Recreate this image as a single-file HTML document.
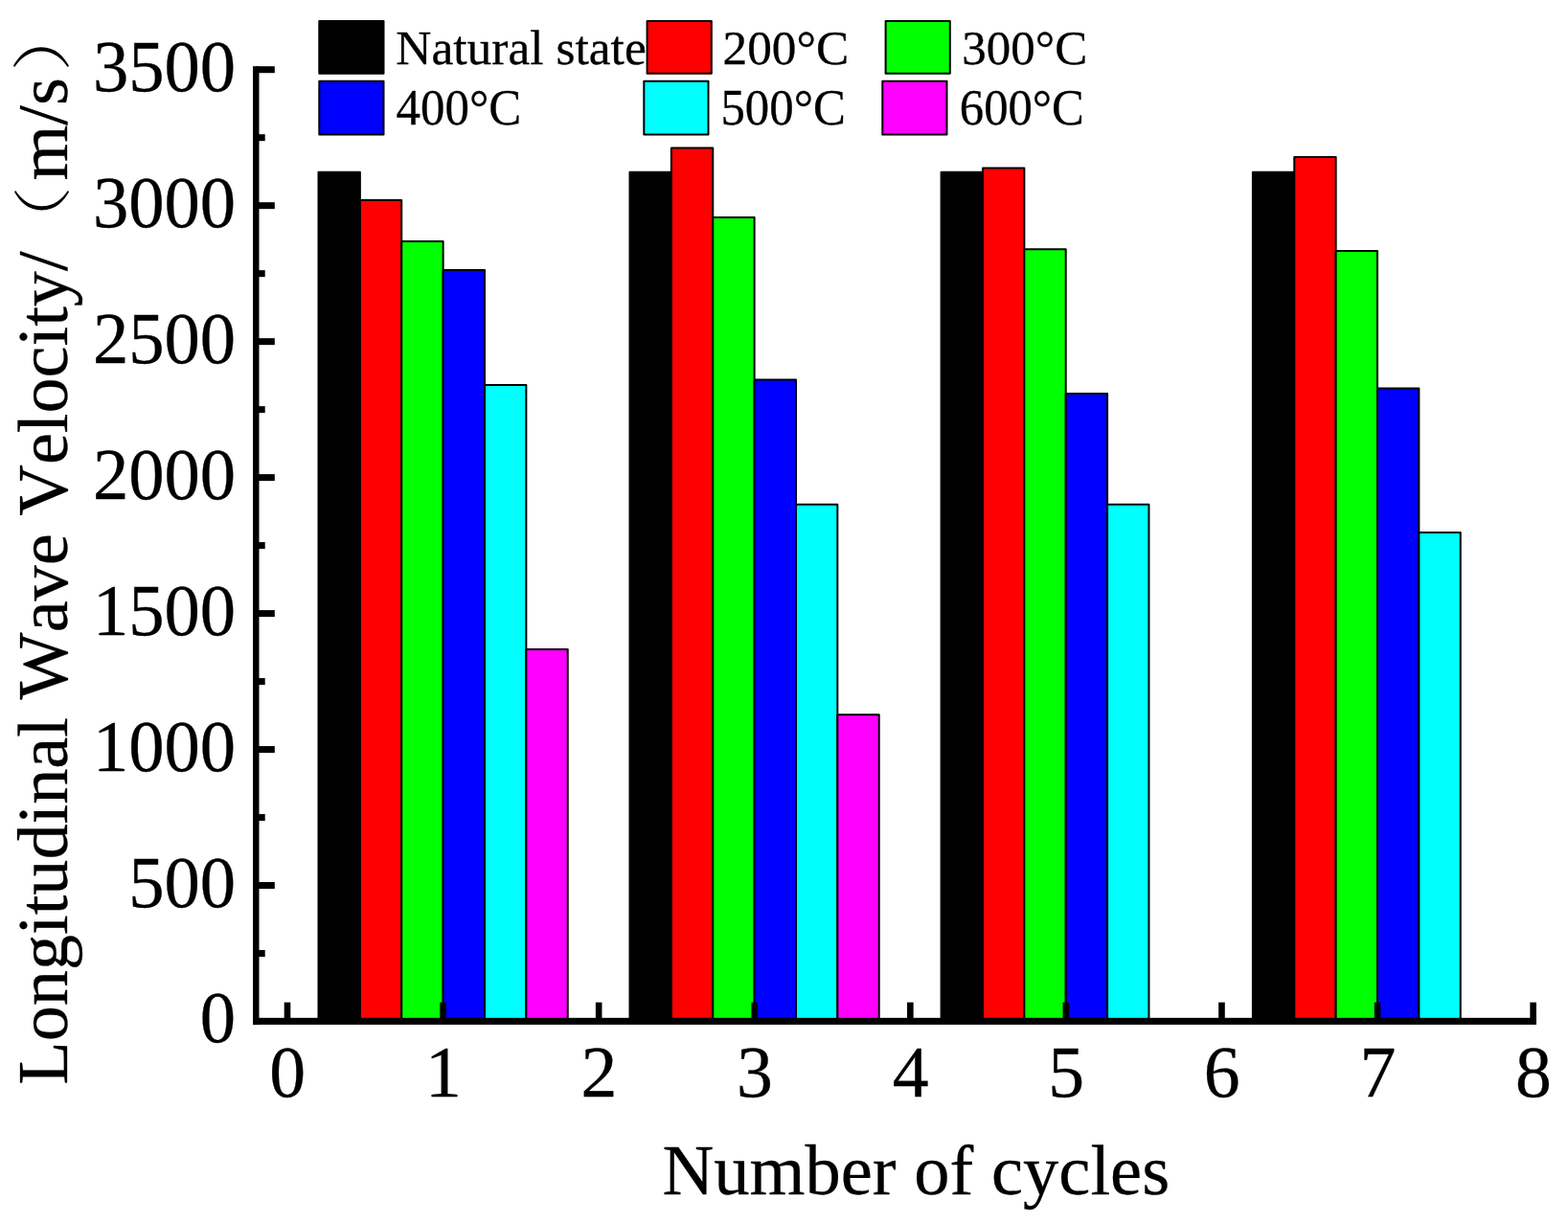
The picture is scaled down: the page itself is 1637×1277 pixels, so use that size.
<!DOCTYPE html>
<html lang="en">
<head>
<meta charset="utf-8">
<title>Longitudinal Wave Velocity vs Number of cycles</title>
<style>
html,body{margin:0;padding:0;background:#fff}
body{width:1637px;height:1277px;overflow:hidden}
figure{margin:0;width:1637px;height:1277px}
svg{display:block}
text{font-family:"Liberation Serif","Noto Serif CJK SC",serif;fill:#000;stroke:#000;stroke-width:.3px;stroke-linejoin:round;font-kerning:none}
.cjk{font-family:"Noto Serif CJK SC","Noto Sans CJK SC",serif;font-weight:300;stroke:none}
.bars rect,.legend rect{stroke:#000;stroke-width:2px;stroke-linejoin:round}
.axes rect{fill:#000}
.tick{font-size:75px}
.title{font-size:75px}
.legend text{font-size:51.5px}
</style>
</head>
<body>
<figure>
<svg width="1637" height="1277" viewBox="0 0 1637 1277" role="img" aria-label="Bar chart of longitudinal wave velocity against number of cycles">
<rect x="0" y="0" width="1637" height="1277" fill="#ffffff"/>
<g class="bars">
<g class="group cycle-1">
<rect x="332.50" y="179.80" width="43.37" height="886.70" fill="#000000"/>
<rect x="375.87" y="209.00" width="43.37" height="857.50" fill="#ff0000"/>
<rect x="419.24" y="251.90" width="43.37" height="814.60" fill="#00ff00"/>
<rect x="462.61" y="282.00" width="43.37" height="784.50" fill="#0000ff"/>
<rect x="505.98" y="402.00" width="43.37" height="664.50" fill="#00ffff"/>
<rect x="549.35" y="677.90" width="43.37" height="388.60" fill="#ff00ff"/>
</g>
<g class="group cycle-3">
<rect x="657.50" y="179.80" width="43.37" height="886.70" fill="#000000"/>
<rect x="700.87" y="154.40" width="43.37" height="912.10" fill="#ff0000"/>
<rect x="744.24" y="226.90" width="43.37" height="839.60" fill="#00ff00"/>
<rect x="787.61" y="396.50" width="43.37" height="670.00" fill="#0000ff"/>
<rect x="830.98" y="526.80" width="43.37" height="539.70" fill="#00ffff"/>
<rect x="874.35" y="746.30" width="43.37" height="320.20" fill="#ff00ff"/>
</g>
<g class="group cycle-5">
<rect x="982.60" y="179.80" width="43.37" height="886.70" fill="#000000"/>
<rect x="1025.97" y="175.60" width="43.37" height="890.90" fill="#ff0000"/>
<rect x="1069.34" y="260.20" width="43.37" height="806.30" fill="#00ff00"/>
<rect x="1112.71" y="411.00" width="43.37" height="655.50" fill="#0000ff"/>
<rect x="1156.08" y="526.80" width="43.37" height="539.70" fill="#00ffff"/>
</g>
<g class="group cycle-7">
<rect x="1307.90" y="179.80" width="43.37" height="886.70" fill="#000000"/>
<rect x="1351.27" y="164.10" width="43.37" height="902.40" fill="#ff0000"/>
<rect x="1394.64" y="262.00" width="43.37" height="804.50" fill="#00ff00"/>
<rect x="1438.01" y="405.40" width="43.37" height="661.10" fill="#0000ff"/>
<rect x="1481.38" y="556.00" width="43.37" height="510.50" fill="#00ffff"/>
</g>
</g>
<g class="axes">
<rect class="y-axis" x="264" y="69.2" width="6.5" height="1000.7"/>
<rect class="x-axis" x="264" y="1062.8" width="1340" height="7.1"/>
<g class="y-ticks">
<rect x="267" y="69.20" width="19.8" height="7"/>
<rect x="267" y="140.19" width="9.7" height="7"/>
<rect x="267" y="211.17" width="19.8" height="7"/>
<rect x="267" y="282.16" width="9.7" height="7"/>
<rect x="267" y="353.14" width="19.8" height="7"/>
<rect x="267" y="424.12" width="9.7" height="7"/>
<rect x="267" y="495.11" width="19.8" height="7"/>
<rect x="267" y="566.09" width="9.7" height="7"/>
<rect x="267" y="637.08" width="19.8" height="7"/>
<rect x="267" y="708.07" width="9.7" height="7"/>
<rect x="267" y="779.05" width="19.8" height="7"/>
<rect x="267" y="850.04" width="9.7" height="7"/>
<rect x="267" y="921.02" width="19.8" height="7"/>
<rect x="267" y="992.00" width="9.7" height="7"/>
</g>
<g class="x-ticks">
<rect x="296.70" y="1046.6" width="6.6" height="20"/>
<rect x="459.28" y="1046.6" width="6.6" height="20"/>
<rect x="621.86" y="1046.6" width="6.6" height="20"/>
<rect x="784.44" y="1046.6" width="6.6" height="20"/>
<rect x="947.02" y="1046.6" width="6.6" height="20"/>
<rect x="1109.60" y="1046.6" width="6.6" height="20"/>
<rect x="1272.18" y="1046.6" width="6.6" height="20"/>
<rect x="1434.76" y="1046.6" width="6.6" height="20"/>
<rect x="1597.34" y="1046.6" width="6.6" height="20"/>
</g>
</g>
<g class="legend">
<g class="legend-item">
<rect x="333.30" y="22.00" width="67.2" height="54.80" fill="#000000"/>
<text transform="matrix(0.9994 0 0 0.9755 413.30 66.65)">Natural state</text>
</g>
<g class="legend-item">
<rect x="675.60" y="22.00" width="67.2" height="54.80" fill="#ff0000"/>
<text transform="matrix(0.9961 0 0 1.0043 754.50 67.47)">200°C</text>
</g>
<g class="legend-item">
<rect x="924.60" y="22.00" width="67.2" height="54.80" fill="#00ff00"/>
<text transform="matrix(0.9906 0 0 1.0043 1004.25 67.47)">300°C</text>
</g>
<g class="legend-item">
<rect x="333.30" y="84.80" width="67.2" height="55.80" fill="#0000ff"/>
<text transform="matrix(0.9887 0 0 1.0057 413.53 129.78)">400°C</text>
</g>
<g class="legend-item">
<rect x="672.30" y="84.80" width="67.2" height="55.80" fill="#00ffff"/>
<text transform="matrix(0.9866 0 0 1.0057 752.43 129.78)">500°C</text>
</g>
<g class="legend-item">
<rect x="921.30" y="84.80" width="67.2" height="55.80" fill="#ff00ff"/>
<text transform="matrix(0.9843 0 0 1.0057 1001.80 129.78)">600°C</text>
</g>
</g>
<g class="tick y-labels" text-anchor="end">
<text transform="translate(246.15 94.70) scale(.995 1.025)">3500</text>
<text transform="translate(246.15 236.67) scale(.995 1.025)">3000</text>
<text transform="translate(246.15 378.64) scale(.995 1.025)">2500</text>
<text transform="translate(246.15 520.61) scale(.995 1.025)">2000</text>
<text transform="translate(246.15 662.58) scale(.995 1.025)">1500</text>
<text transform="translate(246.15 804.55) scale(.995 1.025)">1000</text>
<text transform="translate(246.15 946.52) scale(.995 1.025)">500</text>
<text transform="translate(246.15 1088.49) scale(.995 1.025)">0</text>
</g>
<g class="title y-title">
<text transform="matrix(0 -0.9903 0.9891 0 69.75 1132.68)">Longitudinal Wave Velocity/<tspan class="cjk" x="874.21" dy="-3.01" font-size="61.75" textLength="73.42" lengthAdjust="spacingAndGlyphs">（</tspan><tspan x="953.53" dy="3.01">m/s</tspan><tspan class="cjk" x="1068.22" dy="-3.03" font-size="62.91" textLength="74.49" lengthAdjust="spacingAndGlyphs">）</tspan></text>
</g>
<g class="tick x-labels" text-anchor="middle">
<text transform="translate(300.30 1145.2) scale(1.01 1.02)">0</text>
<text transform="translate(462.88 1145.2) scale(1.01 1.02)">1</text>
<text transform="translate(625.46 1145.2) scale(1.01 1.02)">2</text>
<text transform="translate(788.04 1145.2) scale(1.01 1.02)">3</text>
<text transform="translate(950.62 1145.2) scale(1.01 1.02)">4</text>
<text transform="translate(1113.20 1145.2) scale(1.01 1.02)">5</text>
<text transform="translate(1275.78 1145.2) scale(1.01 1.02)">6</text>
<text transform="translate(1438.36 1145.2) scale(1.01 1.02)">7</text>
<text transform="translate(1600.94 1145.2) scale(1.01 1.02)">8</text>
</g>
<g class="title x-title">
<text transform="matrix(0.9937 0 0 0.9850 691.52 1247.45)">Number of cycles</text>
</g>
</svg>
</figure>
</body>
</html>
